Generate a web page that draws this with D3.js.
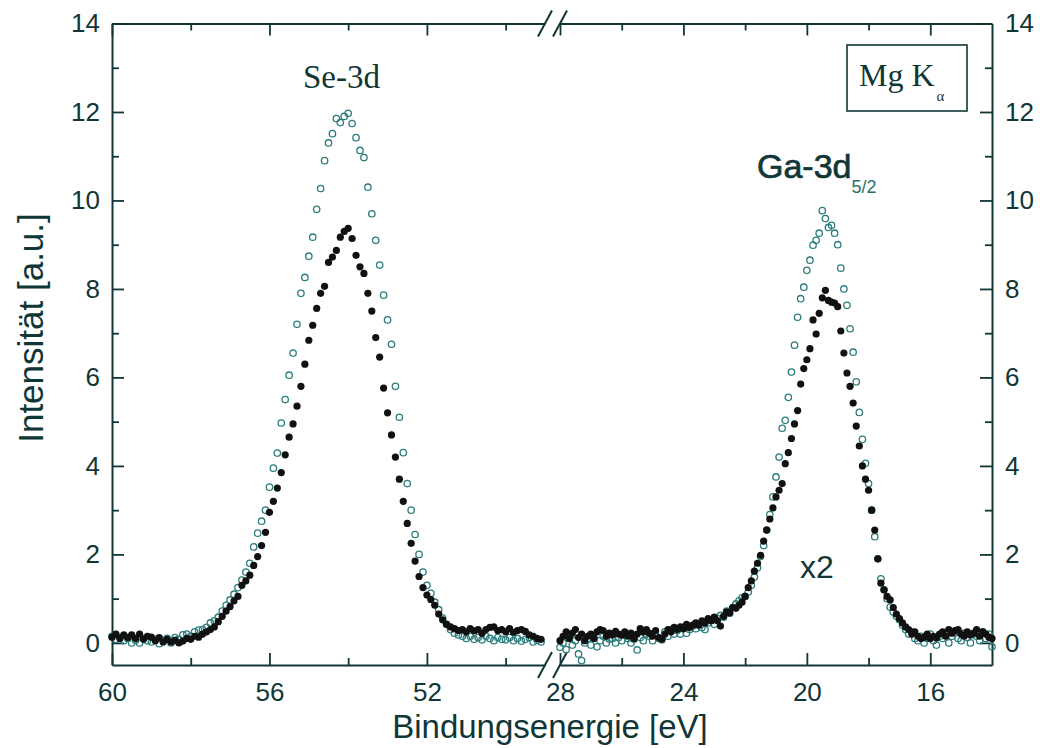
<!DOCTYPE html>
<html>
<head>
<meta charset="utf-8">
<script src="https://cdn.jsdelivr.net/npm/d3@7"></script>
<style>
  body { margin: 0; background: #fff; }
</style>
</head>
<body>
<script>
// Se-3d region, binding energy in eV (left part of the broken axis)
var seEnergy = [
  60.0, 59.9, 59.8, 59.7, 59.6, 59.5, 59.4, 59.3, 59.2, 59.1,
  59.0, 58.9, 58.8, 58.7, 58.6, 58.5, 58.4, 58.3, 58.2, 58.1,
  58.0, 57.9, 57.8, 57.7, 57.6, 57.5, 57.4, 57.3, 57.2, 57.1,
  57.0, 56.9, 56.8, 56.7, 56.6, 56.5, 56.4, 56.3, 56.2, 56.1,
  56.0, 55.9, 55.8, 55.7, 55.6, 55.5, 55.4, 55.3, 55.2, 55.1,
  55.0, 54.9, 54.8, 54.7, 54.6, 54.5, 54.4, 54.3, 54.2, 54.1,
  54.0, 53.9, 53.8, 53.7, 53.6, 53.5, 53.4, 53.3, 53.2, 53.1,
  53.0, 52.9, 52.8, 52.7, 52.6, 52.5, 52.4, 52.3, 52.2, 52.1,
  52.0, 51.9, 51.8, 51.7, 51.6, 51.5, 51.4, 51.3, 51.2, 51.1,
  51.0, 50.9, 50.8, 50.7, 50.6, 50.5, 50.4, 50.3, 50.2, 50.1,
  50.0, 49.9, 49.8, 49.7, 49.6, 49.5, 49.4, 49.3, 49.2, 49.1
];
// open circles
var seOpen = [
  0.15, 0.08, 0.12, 0.05, 0.10, 0.00, 0.06, 0.00, 0.10, 0.05,
  0.02, 0.08, -0.02, 0.05, 0.10, 0.00, 0.12, 0.08, 0.18, 0.20,
  0.15, 0.25, 0.29, 0.30, 0.35, 0.45, 0.50, 0.58, 0.72, 0.85,
  0.97, 1.10, 1.25, 1.42, 1.60, 1.80, 2.17, 2.48, 2.75, 3.00,
  3.52, 3.95, 4.29, 4.97, 5.50, 6.05, 6.55, 7.20, 7.90, 8.26,
  8.74, 9.17, 9.80, 10.27, 10.90, 11.30, 11.51, 11.85, 11.76, 11.90,
  11.97, 11.74, 11.42, 11.13, 10.97, 10.30, 9.70, 9.10, 8.54, 7.86,
  7.30, 6.75, 5.80, 5.10, 4.30, 3.60, 3.00, 2.45, 2.00, 1.60,
  1.30, 1.12, 0.92, 0.75, 0.56, 0.42, 0.30, 0.22, 0.18, 0.15,
  0.10, 0.15, 0.08, 0.12, 0.07, 0.15, 0.10, 0.05, 0.12, 0.08,
  0.07, 0.12, 0.05, 0.10, 0.04, 0.08, 0.12, 0.02, 0.06, 0.02
];
// filled dots
var seFilled = [
  0.13, 0.20, 0.10, 0.18, 0.12, 0.18, 0.10, 0.20, 0.08, 0.15,
  0.13, 0.05, 0.12, 0.02, 0.08, 0.02, 0.06, 0.00, 0.04, 0.10,
  0.08, 0.15, 0.13, 0.20, 0.25, 0.30, 0.36, 0.48, 0.60, 0.72,
  0.82, 0.95, 1.05, 1.30, 1.40, 1.53, 1.75, 1.95, 2.20, 2.50,
  2.95, 3.20, 3.50, 3.85, 4.25, 4.65, 4.95, 5.35, 5.80, 6.30,
  6.84, 7.18, 7.56, 7.90, 8.06, 8.60, 8.72, 8.87, 9.17, 9.30,
  9.37, 9.14, 8.76, 8.50, 8.35, 7.90, 7.50, 6.90, 6.46, 5.76,
  5.20, 4.70, 4.20, 3.70, 3.20, 2.70, 2.25, 1.85, 1.50, 1.25,
  1.08, 0.98, 0.85, 0.65, 0.52, 0.42, 0.36, 0.32, 0.28, 0.30,
  0.25, 0.32, 0.27, 0.30, 0.22, 0.30, 0.35, 0.36, 0.28, 0.30,
  0.25, 0.32, 0.24, 0.28, 0.30, 0.26, 0.18, 0.15, 0.10, 0.08
];

// Ga-3d region (right part of the broken axis), intensities x2
var gaEnergy = [
  28.0, 27.9, 27.8, 27.7, 27.6, 27.5, 27.4, 27.3, 27.2, 27.1,
  27.0, 26.9, 26.8, 26.7, 26.6, 26.5, 26.4, 26.3, 26.2, 26.1,
  26.0, 25.9, 25.8, 25.7, 25.6, 25.5, 25.4, 25.3, 25.2, 25.1,
  25.0, 24.9, 24.8, 24.7, 24.6, 24.5, 24.4, 24.3, 24.2, 24.1,
  24.0, 23.9, 23.8, 23.7, 23.6, 23.5, 23.4, 23.3, 23.2, 23.1,
  23.0, 22.9, 22.8, 22.7, 22.6, 22.5, 22.4, 22.3, 22.2, 22.1,
  22.0, 21.9, 21.8, 21.7, 21.6, 21.5, 21.4, 21.3, 21.2, 21.1,
  21.0, 20.9, 20.8, 20.7, 20.6, 20.5, 20.4, 20.3, 20.2, 20.1,
  20.0, 19.9, 19.8, 19.7, 19.6, 19.5, 19.4, 19.3, 19.2, 19.1,
  19.0, 18.9, 18.8, 18.7, 18.6, 18.5, 18.4, 18.3, 18.2, 18.1,
  18.0, 17.9, 17.8, 17.7, 17.6, 17.5, 17.4, 17.3, 17.2, 17.1,
  17.0, 16.9, 16.8, 16.7, 16.6, 16.5, 16.4, 16.3, 16.2, 16.1,
  16.0, 15.9, 15.8, 15.7, 15.6, 15.5, 15.4, 15.3, 15.2, 15.1,
  15.0, 14.9, 14.8, 14.7, 14.6, 14.5, 14.4, 14.3, 14.2, 14.1,
  14.0
];
var gaOpen = [
  -0.10, 0.00, -0.15, 0.10, -0.05, 0.05, -0.25, -0.40, 0.00, 0.10,
  -0.05, 0.12, -0.09, 0.05, 0.15, 0.00, 0.08, 0.10, 0.00, 0.12,
  0.05, 0.20, 0.10, 0.00, 0.08, -0.16, 0.12, 0.05, 0.20, 0.15,
  0.05, 0.18, 0.10, 0.07, 0.25, 0.15, 0.30, 0.20, 0.28, 0.20,
  0.35, 0.22, 0.30, 0.38, 0.32, 0.42, 0.35, 0.30, 0.45, 0.50,
  0.42, 0.55, 0.62, 0.58, 0.72, 0.67, 0.80, 0.88, 0.95, 1.02,
  1.05, 1.15, 1.30, 1.49, 1.70, 1.95, 2.20, 2.55, 2.90, 3.30,
  3.75, 4.20, 4.85, 5.03, 5.55, 6.12, 6.73, 7.36, 7.78, 8.04,
  8.42, 8.65, 8.99, 9.10, 9.26, 9.77, 9.59, 9.39, 9.44, 9.26,
  9.00, 8.47, 8.00, 7.63, 7.10, 6.57, 5.90, 5.21, 4.60, 4.06,
  3.60, 3.00, 2.40, 1.90, 1.45, 1.20, 1.00, 0.81, 0.70, 0.60,
  0.52, 0.40, 0.30, 0.20, 0.25, 0.10, 0.05, 0.15, 0.00, 0.10,
  0.20, 0.05, -0.05, 0.15, 0.10, 0.20, 0.00, 0.15, 0.25, 0.10,
  0.05, 0.22, 0.12, 0.00, 0.20, 0.15, 0.05, 0.25, 0.10, 0.20,
  -0.09
];
var gaFilled = [
  0.05, 0.15, 0.25, 0.10, 0.22, 0.30, 0.12, 0.20, 0.05, 0.15,
  0.20, 0.10, 0.25, 0.30, 0.28, 0.15, 0.22, 0.18, 0.26, 0.20,
  0.18, 0.25, 0.15, 0.22, 0.10, 0.20, 0.32, 0.25, 0.30, 0.22,
  0.15, 0.28, 0.12, 0.08, 0.20, 0.30, 0.25, 0.35, 0.30, 0.36,
  0.32, 0.42, 0.35, 0.40, 0.45, 0.40, 0.50, 0.45, 0.55, 0.50,
  0.58, 0.50, 0.38, 0.60, 0.70, 0.68, 0.80, 0.78, 0.85, 0.92,
  1.05, 1.25, 1.40, 1.62, 1.80, 1.98, 2.30, 2.55, 2.80, 3.05,
  3.30, 3.45, 3.60, 4.05, 4.30, 4.62, 4.95, 5.25, 5.85, 6.20,
  6.40, 6.65, 7.30, 6.98, 7.45, 7.80, 7.97, 7.74, 7.70, 7.68,
  7.60, 7.05, 6.55, 6.10, 5.80, 5.42, 4.90, 4.45, 4.00, 3.70,
  3.45, 3.00, 2.55, 1.90, 1.35, 1.20, 1.05, 0.97, 0.80, 0.65,
  0.55, 0.45, 0.36, 0.30, 0.20, 0.25, 0.15, 0.10, 0.13, 0.20,
  0.10, 0.15, 0.11, 0.20, 0.25, 0.15, 0.30, 0.22, 0.28, 0.30,
  0.20, 0.15, 0.25, 0.18, 0.22, 0.30, 0.15, 0.25, 0.20, 0.13,
  0.10
];

// tick values
var xTicksLeft = [60, 56, 52], xMinorLeft = [58, 54, 50];
var xTicksRight = [28, 24, 20, 16], xMinorRight = [26, 22, 18];
var yTicks = [0, 2, 4, 6, 8, 10, 12, 14], yMinor = [1, 3, 5, 7, 9, 11, 13];

var w = 1040, h = 748;
var ink = "#103636", ring = "#2c7c7c";
var sans = "'Liberation Sans', Arial, sans-serif";
var serif = "'Liberation Serif', 'Times New Roman', serif";

var svg = d3.select("body")
    .append("svg")
    .attr("width", w)
    .attr("height", h);

// broken x axis: two scales side by side
var xLeft = d3.scaleLinear().domain([60, 49]).range([112, 545]);
var xRight = d3.scaleLinear().domain([28, 14]).range([560, 992]);
var y = d3.scaleLinear().domain([-0.5, 14]).range([665, 23.5]);

function addAxis(gen, tx, ty, major, minor, labels, pad) {
    var g = svg.append("g")
        .attr("transform", "translate(" + tx + "," + ty + ")")
        .attr("color", ink)
        .call(gen.tickValues(major).tickSize(-12).tickSizeOuter(0)
            .tickPadding(pad).tickFormat(labels ? d3.format("d") : ""));
    g.select(".domain").attr("stroke-width", 2);
    g.selectAll(".tick line").attr("stroke-width", 1.8);
    g.selectAll(".tick text")
        .attr("font-family", sans)
        .attr("font-size", 26)
        .attr("fill", ink);

    var m = svg.append("g")
        .attr("transform", "translate(" + tx + "," + ty + ")")
        .attr("color", ink)
        .call(gen.tickValues(minor).tickSize(-7).tickFormat(""));
    m.select(".domain").remove();
    m.selectAll(".tick line").attr("stroke-width", 1.8);
}

addAxis(d3.axisBottom(xLeft), 0, 665, xTicksLeft, xMinorLeft, true, 18);
addAxis(d3.axisBottom(xRight), 0, 665, xTicksRight, xMinorRight, true, 18);
addAxis(d3.axisTop(xLeft), 0, 23.5, xTicksLeft, xMinorLeft, false, 4);
addAxis(d3.axisTop(xRight), 0, 23.5, xTicksRight, xMinorRight, false, 4);
addAxis(d3.axisLeft(y), 112, 0, yTicks, yMinor, true, 12);
addAxis(d3.axisRight(y), 992, 0, yTicks, yMinor, true, 13);

// axis break marks
var cuts = [];
[y.range()[0], y.range()[1]].forEach(function(yy) {
    cuts.push([xLeft.range()[1], yy]);
    cuts.push([xRight.range()[0], yy]);
});
svg.selectAll("line.cut")
    .data(cuts)
    .enter()
    .append("line")
    .attr("class", "cut")
    .attr("x1", function(d) { return d[0] - 7; })
    .attr("y1", function(d) { return d[1] + 13; })
    .attr("x2", function(d) { return d[0] + 7; })
    .attr("y2", function(d) { return d[1] - 13; })
    .attr("stroke", ink)
    .attr("stroke-width", 2);

// scatter points
function drawPoints(xs, energy, vals, filled) {
    svg.append("g")
        .selectAll("circle")
        .data(energy)
        .enter()
        .append("circle")
        .attr("cx", function(d) { return xs(d); })
        .attr("cy", function(d, i) { return y(vals[i]); })
        .attr("r", filled ? 3.6 : 3.2)
        .attr("fill", filled ? "#111" : "none")
        .attr("stroke", filled ? "none" : ring)
        .attr("stroke-width", 1.3);
}

drawPoints(xLeft, seEnergy, seOpen, false);
drawPoints(xLeft, seEnergy, seFilled, true);
drawPoints(xRight, gaEnergy, gaOpen, false);
drawPoints(xRight, gaEnergy, gaFilled, true);

// axis titles
svg.append("text")
    .attr("x", 550)
    .attr("y", 738)
    .attr("text-anchor", "middle")
    .attr("font-family", sans)
    .attr("font-size", 33)
    .attr("fill", ink)
    .text("Bindungsenergie [eV]");

svg.append("text")
    .attr("transform", "translate(43,328) rotate(-90)")
    .attr("text-anchor", "middle")
    .attr("font-family", sans)
    .attr("font-size", 35)
    .attr("fill", ink)
    .text("Intensität [a.u.]");

// peak labels
svg.append("text")
    .attr("x", 303)
    .attr("y", 88)
    .attr("font-family", serif)
    .attr("font-size", 33)
    .attr("fill", ink)
    .text("Se-3d");

var ga = svg.append("text")
    .attr("x", 757)
    .attr("y", 178)
    .attr("font-family", sans)
    .attr("font-size", 34)
    .attr("fill", ink);
ga.append("tspan")
    .attr("stroke", ink)
    .attr("stroke-width", 0.7)
    .text("Ga-3d");
ga.append("tspan")
    .attr("dy", 15)
    .attr("font-size", 18)
    .attr("fill", "#2a6e6e")
    .text("5/2");

svg.append("text")
    .attr("x", 800)
    .attr("y", 578)
    .attr("font-family", sans)
    .attr("font-size", 32)
    .attr("fill", ink)
    .text("x2");

// source box
svg.append("rect")
    .attr("x", 847)
    .attr("y", 45)
    .attr("width", 120)
    .attr("height", 66)
    .attr("fill", "none")
    .attr("stroke", ink)
    .attr("stroke-width", 1.6);

var mg = svg.append("text")
    .attr("x", 859)
    .attr("y", 86)
    .attr("font-family", serif)
    .attr("font-size", 32)
    .attr("fill", ink);
mg.append("tspan").text("Mg K");
mg.append("tspan")
    .attr("dx", 2)
    .attr("dy", 15)
    .attr("font-size", 15)
    .text("α");
</script>
</body>
</html>
